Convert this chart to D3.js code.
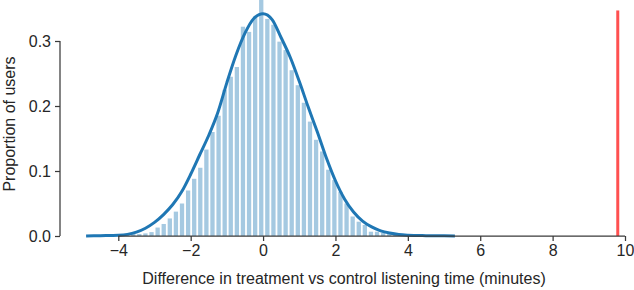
<!DOCTYPE html>
<html>
<head>
<meta charset="utf-8">
<script src="https://cdn.jsdelivr.net/npm/d3@7/dist/d3.min.js"></script>
<style>
  html, body { margin: 0; padding: 0; background: #fff; }
  svg { display: block; }
  text { font-family: "Liberation Sans", Arial, Helvetica, sans-serif; fill: #262626; }
</style>
</head>
<body>
<svg id="chart" width="634" height="290"></svg>
<script>
// ---- data ----
const binStart = -4.008;      // left edge of the first histogram bin (minutes)
const binWidth = 0.1684;      // histogram bin width (minutes)
const binHeights = [
  0.0015, 0.0015, 0.003, 0.003, 0.004, 0.006, 0.013, 0.0185, 0.027, 0.0375,
  0.050, 0.070, 0.088, 0.105, 0.133, 0.160, 0.185, 0.225, 0.245, 0.260,
  0.322, 0.314, 0.338, 0.380, 0.334, 0.325, 0.299, 0.286, 0.255, 0.232,
  0.205, 0.176, 0.148, 0.130, 0.102, 0.086, 0.068, 0.050, 0.030, 0.022,
  0.017, 0.0066, 0.0066, 0.005, 0.003, 0.002, 0.002, 0.001, 0.001, 0.001
];
const kdeX = [-4.89, -4.5, -4.0, -3.75, -3.5, -3.25, -3.0, -2.75, -2.5, -2.25,
  -2.0, -1.75, -1.5, -1.25, -1.0, -0.75, -0.5, -0.25, 0.0, 0.25,
  0.5, 0.75, 1.0, 1.25, 1.5, 1.75, 2.0, 2.25, 2.5, 2.75,
  3.0, 3.25, 3.5, 3.75, 4.0, 4.5, 5.0, 5.3];
const kdeY = [0, 0.0005, 0.0012, 0.0025, 0.006, 0.012, 0.021, 0.033, 0.048, 0.068,
  0.095, 0.125, 0.155, 0.19, 0.236, 0.278, 0.312, 0.335, 0.342, 0.333,
  0.305, 0.275, 0.238, 0.198, 0.16, 0.12, 0.085, 0.057, 0.037, 0.023,
  0.014, 0.008, 0.0045, 0.0022, 0.0012, 0.0005, 0.0002, 0];
const observedDiff = 9.8;     // red line position
const observedTop = 0.347;    // red line height
const xTicks = [-4, -2, 0, 2, 4, 6, 8, 10];
const yTicks = [0.0, 0.1, 0.2, 0.3];
const xLabel = "Difference in treatment vs control listening time (minutes)";
const yLabel = "Proportion of users";

// ---- layout ----
const svg = d3.select("#chart");
const x = d3.scaleLinear().domain([-4, 10]).range([118.3, 625]);
const y = d3.scaleLinear().domain([0, 0.3]).range([236, 41]);

// bars
const bars = binHeights.map((h, i) => ({x0: binStart + i * binWidth, x1: binStart + (i + 1) * binWidth, h}));
svg.append("g").selectAll("rect").data(bars).join("rect")
  .attr("x", d => x(d.x0) + 0.9)
  .attr("width", d => x(d.x1) - x(d.x0) - 1.8)
  .attr("y", d => y(d.h))
  .attr("height", d => y(0) - y(d.h))
  .attr("fill", "#a5c9e1");

// KDE line
const kde = kdeX.map((v, i) => [v, kdeY[i]]);
svg.append("path")
  .datum(kde)
  .attr("fill", "none")
  .attr("stroke", "#1f77b4")
  .attr("stroke-width", 3)
  .attr("stroke-linejoin", "round")
  .attr("d", d3.line().x(d => x(d[0])).y(d => y(d[1])).curve(d3.curveMonotoneX));

// observed difference line
svg.append("line")
  .attr("x1", x(observedDiff)).attr("x2", x(observedDiff))
  .attr("y1", y(0)).attr("y2", y(observedTop))
  .attr("stroke", "#ff5050").attr("stroke-width", 3);

// axes
const fmtX = d => d3.format("d")(d).replace("-", "\u2212");
const xAxis = svg.append("g").attr("transform", `translate(0,${y(0)})`)
  .call(d3.axisBottom(x).tickValues(xTicks).tickFormat(fmtX).tickSize(5).tickPadding(4));
const yAxis = svg.append("g").attr("transform", `translate(${x(-4) - 58.3},0)`)
  .call(d3.axisLeft(y).tickValues(yTicks).tickFormat(d3.format(".1f")).tickSize(5).tickPadding(4));
[xAxis, yAxis].forEach(g => {
  g.selectAll(".domain").attr("stroke", "#3a3a3a").attr("stroke-width", 1.25);
  g.selectAll(".tick line").attr("stroke", "#3a3a3a").attr("stroke-width", 1.25);
  g.selectAll(".tick text").attr("font-size", 16).attr("fill", "#262626");
});
// trim spines to tick range
xAxis.select(".domain").attr("d", `M${x(-4)},0H${x(10)}`);
yAxis.select(".domain").attr("d", `M0,${y(0)}V${y(0.3)}`);

// axis labels
svg.append("text").attr("x", 344).attr("y", 284)
  .attr("text-anchor", "middle").attr("font-size", 16).text(xLabel);
svg.append("text").attr("transform", "translate(15,124) rotate(-90)")
  .attr("text-anchor", "middle").attr("font-size", 16).text(yLabel);
</script>
</body>
</html>
